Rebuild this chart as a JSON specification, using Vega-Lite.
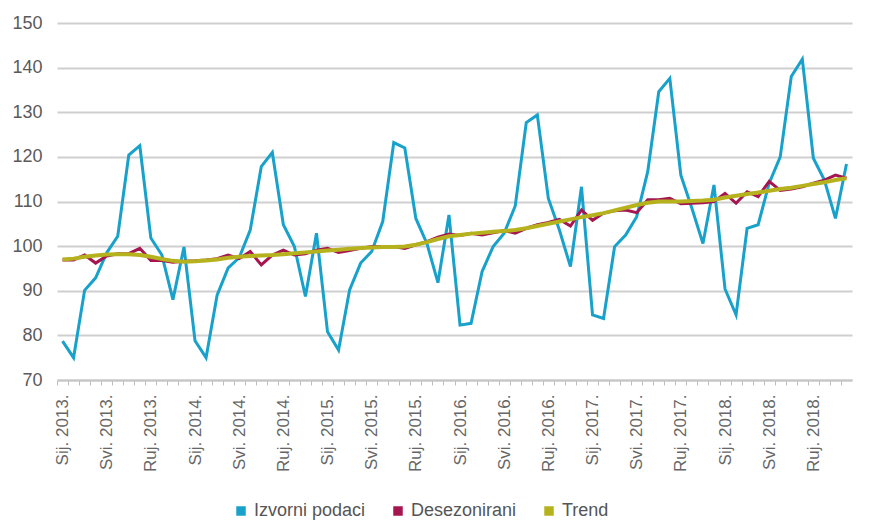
{
  "$schema": "https://vega.github.io/schema/vega-lite/v6.json",
  "width": 795,
  "height": 357,
  "autosize": {"type": "none"},
  "padding": {"left": 57, "top": 23, "right": 21, "bottom": 144},
  "background": "white",
  "config": {
    "view": {"stroke": null},
    "font": "Liberation Sans"
  },
  "data": {
    "values": [
      {"d": "2013-01", "izv": 78.7, "des": 96.9, "tr": 97.0},
      {"d": "2013-02", "izv": 75.0, "des": 96.9, "tr": 97.2},
      {"d": "2013-03", "izv": 90.1, "des": 98.0, "tr": 97.6},
      {"d": "2013-04", "izv": 92.9, "des": 96.2, "tr": 97.9},
      {"d": "2013-05", "izv": 98.5, "des": 97.8, "tr": 98.1},
      {"d": "2013-06", "izv": 102.2, "des": 98.3, "tr": 98.2},
      {"d": "2013-07", "izv": 120.4, "des": 98.3, "tr": 98.2},
      {"d": "2013-08", "izv": 122.5, "des": 99.5, "tr": 98.0},
      {"d": "2013-09", "izv": 101.8, "des": 96.8, "tr": 97.6},
      {"d": "2013-10", "izv": 98.0, "des": 96.8, "tr": 97.1},
      {"d": "2013-11", "izv": 88.0, "des": 96.4, "tr": 96.7},
      {"d": "2013-12", "izv": 99.8, "des": 96.6, "tr": 96.5},
      {"d": "2014-01", "izv": 78.8, "des": 96.7, "tr": 96.6},
      {"d": "2014-02", "izv": 75.0, "des": 96.9, "tr": 96.8},
      {"d": "2014-03", "izv": 89.0, "des": 97.2, "tr": 97.0},
      {"d": "2014-04", "izv": 95.1, "des": 98.0, "tr": 97.4},
      {"d": "2014-05", "izv": 97.4, "des": 97.2, "tr": 97.6},
      {"d": "2014-06", "izv": 103.6, "des": 98.8, "tr": 97.8},
      {"d": "2014-07", "izv": 117.8, "des": 95.8, "tr": 97.9},
      {"d": "2014-08", "izv": 121.0, "des": 98.0, "tr": 98.0},
      {"d": "2014-09", "izv": 104.8, "des": 99.1, "tr": 98.2},
      {"d": "2014-10", "izv": 99.9, "des": 98.0, "tr": 98.4},
      {"d": "2014-11", "izv": 88.7, "des": 98.3, "tr": 98.6},
      {"d": "2014-12", "izv": 102.9, "des": 99.1, "tr": 98.8},
      {"d": "2015-01", "izv": 80.8, "des": 99.5, "tr": 99.0},
      {"d": "2015-02", "izv": 76.7, "des": 98.6, "tr": 99.2},
      {"d": "2015-03", "izv": 90.2, "des": 99.0, "tr": 99.4},
      {"d": "2015-04", "izv": 96.2, "des": 99.5, "tr": 99.6},
      {"d": "2015-05", "izv": 98.8, "des": 99.9, "tr": 99.7},
      {"d": "2015-06", "izv": 105.5, "des": 99.9, "tr": 99.8},
      {"d": "2015-07", "izv": 123.2, "des": 99.9, "tr": 99.8},
      {"d": "2015-08", "izv": 122.0, "des": 99.5, "tr": 99.9},
      {"d": "2015-09", "izv": 106.2, "des": 100.3, "tr": 100.3},
      {"d": "2015-10", "izv": 100.6, "des": 101.0, "tr": 100.9},
      {"d": "2015-11", "izv": 91.8, "des": 102.0, "tr": 101.6},
      {"d": "2015-12", "izv": 107.0, "des": 102.7, "tr": 102.2},
      {"d": "2016-01", "izv": 82.3, "des": 102.4, "tr": 102.5},
      {"d": "2016-02", "izv": 82.7, "des": 102.9, "tr": 102.8},
      {"d": "2016-03", "izv": 94.3, "des": 102.5, "tr": 103.0},
      {"d": "2016-04", "izv": 99.9, "des": 103.0, "tr": 103.2},
      {"d": "2016-05", "izv": 102.9, "des": 103.5, "tr": 103.4},
      {"d": "2016-06", "izv": 109.0, "des": 102.9, "tr": 103.6},
      {"d": "2016-07", "izv": 127.7, "des": 104.0, "tr": 104.0},
      {"d": "2016-08", "izv": 129.4, "des": 104.8, "tr": 104.5},
      {"d": "2016-09", "izv": 110.7, "des": 105.3, "tr": 105.0},
      {"d": "2016-10", "izv": 103.6, "des": 106.0, "tr": 105.5},
      {"d": "2016-11", "izv": 95.4, "des": 104.5, "tr": 106.0},
      {"d": "2016-12", "izv": 113.3, "des": 108.1, "tr": 106.5},
      {"d": "2017-01", "izv": 84.6, "des": 105.8, "tr": 106.9},
      {"d": "2017-02", "izv": 83.8, "des": 107.4, "tr": 107.4},
      {"d": "2017-03", "izv": 99.9, "des": 107.9, "tr": 108.0},
      {"d": "2017-04", "izv": 102.5, "des": 108.1, "tr": 108.6},
      {"d": "2017-05", "izv": 106.6, "des": 107.5, "tr": 109.2},
      {"d": "2017-06", "izv": 116.7, "des": 110.4, "tr": 109.7},
      {"d": "2017-07", "izv": 134.6, "des": 110.4, "tr": 110.0},
      {"d": "2017-08", "izv": 137.6, "des": 110.7, "tr": 110.0},
      {"d": "2017-09", "izv": 115.9, "des": 109.5, "tr": 110.0},
      {"d": "2017-10", "izv": 108.5, "des": 109.6, "tr": 110.1},
      {"d": "2017-11", "izv": 100.6, "des": 109.7, "tr": 110.2},
      {"d": "2017-12", "izv": 113.7, "des": 110.0, "tr": 110.4},
      {"d": "2018-01", "izv": 90.4, "des": 111.8, "tr": 110.9},
      {"d": "2018-02", "izv": 84.6, "des": 109.6, "tr": 111.3},
      {"d": "2018-03", "izv": 104.0, "des": 112.2, "tr": 111.7},
      {"d": "2018-04", "izv": 104.8, "des": 111.1, "tr": 112.0},
      {"d": "2018-05", "izv": 114.1, "des": 114.5, "tr": 112.4},
      {"d": "2018-06", "izv": 120.0, "des": 112.5, "tr": 112.8},
      {"d": "2018-07", "izv": 138.0, "des": 112.8, "tr": 113.1},
      {"d": "2018-08", "izv": 141.9, "des": 113.3, "tr": 113.5},
      {"d": "2018-09", "izv": 119.7, "des": 114.1, "tr": 113.9},
      {"d": "2018-10", "izv": 114.8, "des": 114.8, "tr": 114.3},
      {"d": "2018-11", "izv": 106.2, "des": 115.9, "tr": 114.8},
      {"d": "2018-12", "izv": 118.4, "des": 115.2, "tr": 115.2}
    ]
  },
  "encoding": {
    "x": {
      "field": "d",
      "type": "ordinal",
      "sort": null,
      "scale": {"type": "point", "padding": 0.5},
      "axis": {
        "title": null,
        "labelAngle": -90,
        "labelAlign": "right",
        "labelBaseline": "middle",
        "labelFontSize": 17,
        "labelColor": "#666666",
        "labelPadding": 9,
        "tickOffset": -5.52,
        "labelOffset": 5.52,
        "ticks": true,
        "tickSize": 5,
        "tickColor": "#bdbdbd",
        "tickWidth": 1,
        "domain": true,
        "domainColor": "#c6c6c6",
        "domainWidth": 2,
        "grid": false,
        "labelExpr": "slice(datum.value,5)=='01' ? 'Sij. ' + slice(datum.value,0,4) + '.' : (slice(datum.value,5)=='05' ? 'Svi. ' + slice(datum.value,0,4) + '.' : (slice(datum.value,5)=='09' ? 'Ruj. ' + slice(datum.value,0,4) + '.' : ''))"
      }
    }
  },
  "layer": [
    {
      "mark": {"type": "line", "strokeWidth": 3, "strokeJoin": "miter"},
      "encoding": {
        "y": {
          "field": "izv",
          "type": "quantitative",
          "scale": {"domain": [70, 150], "nice": false, "zero": false},
          "axis": {
            "title": null,
            "values": [70, 80, 90, 100, 110, 120, 130, 140, 150],
            "domain": false,
            "ticks": false,
            "grid": true,
            "gridColor": "#cfcfcf",
            "gridWidth": 2,
            "labelFontSize": 18,
            "labelColor": "#5a5a5a",
            "labelPadding": 15
          }
        },
        "color": {
          "datum": "Izvorni podaci",
          "type": "nominal",
          "scale": {
            "domain": ["Izvorni podaci", "Desezonirani", "Trend"],
            "range": ["#17a1cb", "#a5154f", "#b5b21e"]
          },
          "legend": {
            "title": null,
            "orient": "none",
            "legendX": 175,
            "legendY": 479,
            "direction": "horizontal",
            "symbolType": "square",
            "symbolSize": 90,
            "symbolStrokeWidth": 0,
            "labelFontSize": 18,
            "labelColor": "#555555",
            "labelOffset": 4,
            "columnPadding": 23,
            "padding": 0,
            "encode": {
              "symbols": {"update": {"fill": {"scale": "color", "field": "value"}, "fillOpacity": {"value": 1}}}
            }
          }
        }
      }
    },
    {
      "mark": {"type": "line", "strokeWidth": 3},
      "encoding": {
        "y": {"field": "des", "type": "quantitative"},
        "color": {"datum": "Desezonirani", "type": "nominal"}
      }
    },
    {
      "mark": {"type": "line", "strokeWidth": 4},
      "encoding": {
        "y": {"field": "tr", "type": "quantitative"},
        "color": {"datum": "Trend", "type": "nominal"}
      }
    }
  ]
}
